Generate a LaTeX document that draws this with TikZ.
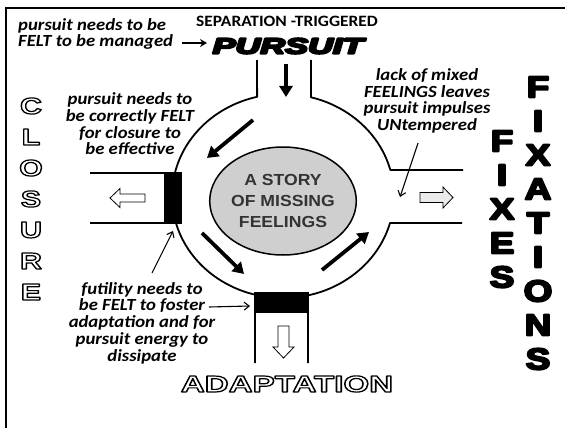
\documentclass[tikz,border=0pt]{standalone}
\usepackage{fontspec}
\usepackage{graphicx}
\usetikzlibrary{arrows.meta,shapes.geometric}
\setmainfont[FakeStretch=1.1]{Carlito}
\newfontfamily\arialf[FakeStretch=1.1]{Liberation Sans}
% stroked text via PDF text rendering mode
\newcommand\hollowtxt[2]{\special{pdf:literal direct 2 Tr #1 w 1 j 1 g 0 G}#2\special{pdf:literal direct 0 Tr 0.4 w 0 j 0 g 0 G}}
\newcommand\heavytxt[2]{\special{pdf:literal direct 2 Tr #1 w 1 j 0 g 0 G}#2\special{pdf:literal direct 0 Tr 0.4 w 0 j 0 g 0 G}}
\tikzset{
  ring/.style={line width=1.8pt, line join=round},
  note/.style={font=\fontsize{17}{16.7}\selectfont\bfseries\itshape, align=center, inner sep=0pt},
  thinarrow/.style={line width=1.1pt, -{Straight Barb[length=5pt,width=8pt]}},
  fatarrow/.style={line width=3.8pt, -{Triangle[length=11pt,width=13pt]}},
  blockarrow/.style={draw, line width=0.8pt, fill=white, line join=miter},
  hollowletter/.style={font=\arialf\bfseries\fontsize{23}{23}\selectfont, inner sep=0pt},
  heavyletter/.style={font=\arialf\bfseries\fontsize{30}{30}\selectfont, inner sep=0pt},
  blackbar/.style={fill=black},
}
\begin{document}
\begin{tikzpicture}[x=1pt,y=-1pt]
\useasboundingbox (0,0) rectangle (565,428);
% frame (only top and left edges visible)
\draw[line width=2pt] (5.7,440) -- (5.7,8) -- (580,8);

% titles
\node[inner sep=0pt, font=\bfseries\fontsize{15.8}{16}\selectfont] (sep) at (287,21) {SEPARATION -TRIGGERED};
\node[inner sep=0pt, font=\arialf\bfseries\itshape\fontsize{22}{22}\selectfont] (pursuit) at (288,46) {\heavytxt{2}{\scalebox{1.42}[1]{PURSUIT}}};
\node[note, align=left, anchor=west] (manage) at (18,34) {pursuit needs to be\\FELT to be managed};
\coordinate (ma1) at (182,43);
\coordinate (ma2) at (207,43);
\draw[line width=1.8pt, -{Stealth[length=7pt,width=8pt]}] (ma1) -- (ma2);

% ring
\draw[ring] (90,173) -- (174.9,173) arc[start angle=-166.97, end angle=-103.5, x radius=111, y radius=102] -- (257,60);
\draw[ring] (311,60) -- (311,97.3) arc[start angle=-75.4, end angle=-14.77, x radius=111, y radius=102] -- (463,170);
\draw[ring] (462,223) -- (390,223) arc[start angle=15.35, end angle=77, x radius=111, y radius=102] -- (308,363);
\draw[ring] (255,363) -- (255,294.7) arc[start angle=104.6, end angle=164.65, x radius=111, y radius=102] -- (90,223);

% black gates
\fill[blackbar] (164,172) rectangle (182,224);
\fill[blackbar] (254.1,292) rectangle (308.9,313);

% block arrows
\draw[blockarrow] (110,198) -- (120,188.5) -- (120,194) -- (145,194) -- (145,202) -- (120,202) -- (120,207.5) -- cycle;
\draw[blockarrow, fill=black!8] (453,197.5) -- (443,187) -- (443,192.5) -- (420,192.5) -- (420,202.5) -- (443,202.5) -- (443,208) -- cycle;
\draw[blockarrow] (283.5,358) -- (273,347) -- (278,347) -- (278,326) -- (289,326) -- (289,347) -- (294,347) -- cycle;

% center
\node[ellipse, draw, line width=1.5pt, fill=black!19, minimum width=119pt, minimum height=108pt, inner sep=0pt, align=center, text=black!80, font=\arialf\bfseries\fontsize{16}{21}\selectfont] (story) at (283,201) {A STORY\\OF MISSING\\FEELINGS};

% flow arrows
\coordinate (f0a) at (286,64); \coordinate (f0b) at (286,97);
\coordinate (f1a) at (253,120); \coordinate (f1b) at (207,158);
\coordinate (f2a) at (202,233); \coordinate (f2b) at (244,274);
\coordinate (f3a) at (322,270); \coordinate (f3b) at (369,232);
\draw[fatarrow] (f0a) -- (f0b);
\draw[fatarrow] (f1a) -- (f1b);
\draw[fatarrow] (f2a) -- (f2b);
\draw[fatarrow] (f3a) -- (f3b);

% notes
\node[note] (closure note) at (130,124) {pursuit needs to\\be correctly FELT\\for closure to\\be effective};
\node[note] (lack note) at (427,101) {lack of mixed\\FEELINGS leaves\\pursuit impulses\\UNtempered};
\node[note] (futility note) at (142,323) {futility needs to\\be FELT to foster\\adaptation and for\\pursuit energy to\\dissipate};
\coordinate (la1) at (418,143); \coordinate (la2) at (400,197);
\draw[thinarrow] (la1) -- (la2);
\coordinate (fu1) at (152,273); \coordinate (fu2) at (173,231);
\draw[thinarrow] (fu1) -- (fu2);
\coordinate (fo1) at (209,307); \coordinate (fo2) at (250,306);
\draw[thinarrow] (fo1) -- (fo2);

% side words
\foreach \l [count=\i] in {C,L,O,S,U,R,E}
  \node[hollowletter] (closure\i) at (31,75+31*\i) {\hollowtxt{1.2}{\scalebox{1.2}[1]{\l}}};
\foreach \l [count=\i] in {F,I,X,E,S}
  \node[heavyletter] (fixes\i) at (502,107+34*\i) {\heavytxt{2}{\scalebox{1.12}[1]{\l}}};
\foreach \l [count=\i] in {F,I,X,A,T,I,O,N,S}
  \node[heavyletter] (fixations\i) at (538,53+34*\i) {\heavytxt{2}{\scalebox{1.12}[1]{\l}}};
\node[hollowletter] (adaptation) at (287,384) {\hollowtxt{1.2}{\scalebox{1.31}[1]{ADAPTATION}}};
\end{tikzpicture}
\end{document}
